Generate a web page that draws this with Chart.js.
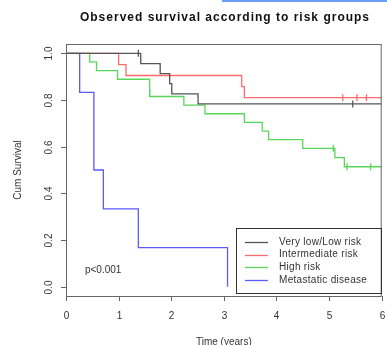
<!DOCTYPE html>
<html>
<head>
<meta charset="utf-8">
<script src="https://cdn.jsdelivr.net/npm/chart.js@4"></script>
<style>
  html, body { margin: 0; padding: 0; background: #fff; }
  #wrap { position: relative; width: 387px; height: 345px; }
  #bar { position: absolute; left: 222px; top: 0; width: 165px; height: 2px; background: #6a9ef5; }
</style>
</head>
<body>
<div id="wrap">
  <canvas id="chart" width="387" height="345"></canvas>
  <div id="bar"></div>
</div>
<script>
// Kaplan-Meier curves
const xTicks = [0, 1, 2, 3, 4, 5, 6];
const yTicks = [0, 0.2, 0.4, 0.6, 0.8, 1.0];
const groupNames = ["Very low/Low risk", "Intermediate risk", "High risk", "Metastatic disease"];

const lowTimes = [0, 1.42, 1.79, 1.97, 2.01, 2.51, 6];
const lowSurv = [1, 0.956, 0.913, 0.870, 0.826, 0.783, 0.783];
const lowCensT = [1.375, 5.45];
const lowCensS = [1, 0.783];

const midTimes = [0, 1.0, 1.14, 3.34, 3.39, 6];
const midSurv = [1, 0.952, 0.905, 0.857, 0.81, 0.81];
const midCensT = [5.26, 5.53, 5.71];
const midCensS = [0.81, 0.81, 0.81];

const highTimes = [0, 0.45, 0.58, 0.98, 1.59, 2.24, 2.64, 3.39, 3.73, 3.85, 4.5, 5.11, 5.29, 6];
const highSurv = [1, 0.963, 0.926, 0.889, 0.815, 0.778, 0.741, 0.704, 0.667, 0.630, 0.593, 0.553, 0.514, 0.514];
const highCensT = [1.59, 5.08, 5.34, 5.79];
const highCensS = [0.83, 0.593, 0.514, 0.514];

const metTimes = [0, 0.26, 0.53, 0.71, 1.375, 3.07];
const metSurv = [1, 0.833, 0.5, 0.333, 0.167, 0];

const colors = ["#555555", "#ff6a6a", "#5ad65a", "#5a5aff"];

const pts = (xs, ys) => xs.map((x, i) => ({ x, y: ys[i] }));

function curve(label, xs, ys, color) {
    return {
        label,
        data: pts(xs, ys),
        borderColor: color,
        borderWidth: 1.3,
        stepped: "before",
        pointRadius: 0,
        fill: false
    };
}

function censor(xs, ys, color) {
    return {
        label: "",
        data: pts(xs, ys),
        showLine: false,
        pointStyle: "line",
        rotation: 90,
        pointRadius: 3.5,
        borderColor: color,
        borderWidth: 1.3
    };
}

// R-like frame, axes, labels and legend
const frame = {
    id: "frame",
    afterDraw(chart) {
        const { ctx, chartArea: a, scales } = chart;
        const sx = scales.x, sy = scales.y;
        ctx.save();
        ctx.strokeStyle = "#666";
        ctx.lineWidth = 1;
        ctx.strokeRect(a.left + 0.5, a.top + 0.5, a.right - a.left - 1, a.bottom - a.top);

        ctx.fillStyle = "#333";
        ctx.font = "10px 'Liberation Sans', Arial, sans-serif";
        ctx.textAlign = "center";
        ctx.textBaseline = "middle";
        xTicks.forEach(v => {
            const px = Math.round(sx.getPixelForValue(v)) + 0.5;
            ctx.beginPath();
            ctx.moveTo(px, a.bottom);
            ctx.lineTo(px, a.bottom + 5);
            ctx.stroke();
            ctx.fillText(String(v), px, a.bottom + 20);
        });
        yTicks.forEach(v => {
            const py = Math.round(sy.getPixelForValue(v)) + 0.5;
            ctx.beginPath();
            ctx.moveTo(a.left - 5, py);
            ctx.lineTo(a.left, py);
            ctx.stroke();
            ctx.save();
            ctx.translate(a.left - 17, py);
            ctx.rotate(-Math.PI / 2);
            ctx.fillText(v.toFixed(1), 0, 0);
            ctx.restore();
        });

        // axis titles
        ctx.fillText("Time (years)", (a.left + a.right) / 2, 342);
        ctx.save();
        ctx.translate(18, 170);
        ctx.rotate(-Math.PI / 2);
        ctx.fillText("Cum Survival", 0, 0);
        ctx.restore();

        // title
        ctx.fillStyle = "#111";
        ctx.font = "bold 12px 'Liberation Sans', Arial, sans-serif";
        ctx.letterSpacing = "1px";
        ctx.fillText("Observed survival according to risk groups", 225, 18);

        // p value
        ctx.fillStyle = "#333";
        ctx.font = "10px 'Liberation Sans', Arial, sans-serif";
        ctx.letterSpacing = "0px";
        ctx.textAlign = "left";
        ctx.fillText("p<0.001", sx.getPixelForValue(0.36), sy.getPixelForValue(0.07));

        // legend box
        ctx.strokeStyle = "#333";
        ctx.strokeRect(236.5, 228.5, 145, 65);
        ctx.letterSpacing = "0.3px";
        groupNames.forEach((name, i) => {
            const y = 242 + i * 12.7;
            ctx.strokeStyle = colors[i];
            ctx.lineWidth = 1.3;
            ctx.beginPath();
            ctx.moveTo(245, Math.round(y) + 0.5);
            ctx.lineTo(268, Math.round(y) + 0.5);
            ctx.stroke();
            ctx.fillText(name, 279, y);
        });
        ctx.restore();
    }
};

new Chart(document.getElementById("chart"), {
    type: "line",
    data: {
        datasets: [
            curve(groupNames[0], lowTimes, lowSurv, colors[0]),
            curve(groupNames[1], midTimes, midSurv, colors[1]),
            curve(groupNames[2], highTimes, highSurv, colors[2]),
            curve(groupNames[3], metTimes, metSurv, colors[3]),
            censor(lowCensT, lowCensS, colors[0]),
            censor(midCensT, midCensS, colors[1]),
            censor(highCensT, highCensS, colors[2])
        ]
    },
    options: {
        responsive: false,
        animation: false,
        layout: { padding: { left: 66, right: 1, top: 44, bottom: 49 } },
        plugins: {
            legend: { display: false },
            tooltip: { enabled: false }
        },
        scales: {
            x: { type: "linear", min: 0, max: 6, display: false },
            y: { type: "linear", min: -0.04, max: 1.04, display: false }
        }
    },
    plugins: [frame]
});
</script>
</body>
</html>
